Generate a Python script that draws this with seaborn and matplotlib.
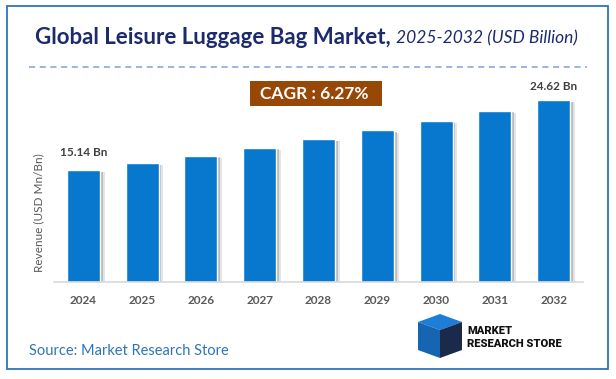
import pandas as pd
import matplotlib
matplotlib.use("Agg")
import matplotlib.pyplot as plt
import matplotlib.patheffects as pe
from matplotlib.patches import Rectangle, Polygon
import seaborn as sns

years = ["2024", "2025", "2026", "2027", "2028", "2029", "2030", "2031", "2032"]
revenue = [15.14, 16.09, 17.10, 18.17, 19.31, 20.52, 21.81, 23.17, 24.62]
first_label = "15.14 Bn"
last_label = "24.62 Bn"
cagr_text = "CAGR : 6.27%"

sns.set_theme(style="white")
plt.rcParams["font.family"] = ["Lato", "DejaVu Sans"]

W, H = 616, 379
fig = plt.figure(figsize=(W / 100, H / 100), dpi=100)
fig.patch.set_facecolor("white")


def fx(px):
    return px / W


def fy(py):
    return 1 - py / H


# main plot area
ax = fig.add_axes([fx(54), fy(282), fx(583) - fx(54), fy(90) - fy(282)])
df = pd.DataFrame({"year": years, "revenue": revenue})
sns.barplot(data=df, x="year", y="revenue", color="#0878CF", saturation=1,
            width=0.56, ax=ax)
for bar in ax.patches:
    bar.set_path_effects([
        pe.SimplePatchShadow(offset=(3.5, -1.5), shadow_rgbFace="#9A9A9A", alpha=0.25),
        pe.SimplePatchShadow(offset=(2, -1), shadow_rgbFace="#7A7A7A", alpha=0.4),
        pe.Normal()])
ax.set_xlim(-0.5, 8.5)
ax.set_ylim(0, 26)
ax.set_yticks([])
ax.set_xlabel("")
ax.set_ylabel("")
for s in ["top", "right", "left"]:
    ax.spines[s].set_visible(False)
ax.spines["bottom"].set_color("#D9D9D9")
ax.spines["bottom"].set_linewidth(1.2)
ax.spines["bottom"].set_zorder(5)
ax.tick_params(axis="x", length=0, pad=9)
for lbl in ax.get_xticklabels():
    lbl.set_fontsize(8.5)
    lbl.set_fontweight("bold")
    lbl.set_color("#595959")

ax.annotate(first_label, (0, revenue[0]), xytext=(0, 9), textcoords="offset points",
            ha="center", va="bottom", fontsize=8.5, fontweight="bold", color="#404040")
ax.annotate(last_label, (len(years) - 1, revenue[-1]), xytext=(0, 6), textcoords="offset points",
            ha="center", va="bottom", fontsize=8.5, fontweight="bold", color="#404040")

# y label
fig.text(fx(39), fy(213), "Revenue (USD Mn/Bn)", rotation=90, ha="center", va="center",
         fontsize=8.5, color="#595959")

# border
fig.patches.append(Rectangle((fx(7), fy(369)), fx(608) - fx(7), fy(6) - fy(369),
                             transform=fig.transFigure, fill=False, edgecolor="#2E75B6", linewidth=1.3))

# title
t1 = fig.text(fx(35), fy(38), "Global Leisure Luggage Bag Market,", ha="left", va="center",
              fontsize=16, fontweight="bold", color="#1C2A6E")
fig.canvas.draw()
bb = t1.get_window_extent()
fig.text(bb.x1 / W + fx(5), fy(38), "2025-2032 (USD Billion)", ha="left", va="center",
         fontsize=12.5, style="italic", color="#1C2A6E")

# dashed separator
fig.add_artist(plt.Line2D([fx(29), fx(587)], [fy(67), fy(67)], transform=fig.transFigure,
                          color="#7FA3D8", linewidth=1.1, linestyle=(0, (4, 3))))

# CAGR box
fig.patches.append(Rectangle((fx(250), fy(106)), fx(382) - fx(250), fy(81) - fy(106),
                             transform=fig.transFigure, facecolor="#974706", edgecolor="none"))
fig.text(fx(314), fy(94), cagr_text, ha="center", va="center", fontsize=12.5,
         fontweight="bold", color="white")

# source
fig.text(fx(29), fy(351), "Source: Market Research Store", ha="left", va="center",
         fontsize=10.5, color="#2E75B6")

# logo (simple cube mark)
fig.patches.append(Polygon([(fx(418), fy(322)), (fx(440), fy(314)), (fx(462), fy(322)), (fx(440), fy(330))],
                           closed=True, transform=fig.transFigure, facecolor="#1C7ED6", edgecolor="none"))
fig.patches.append(Polygon([(fx(418), fy(322)), (fx(440), fy(330)), (fx(440), fy(358)), (fx(418), fy(350))],
                           closed=True, transform=fig.transFigure, facecolor="#1565B0", edgecolor="none"))
fig.patches.append(Polygon([(fx(440), fy(330)), (fx(462), fy(322)), (fx(462), fy(350)), (fx(440), fy(358))],
                           closed=True, transform=fig.transFigure, facecolor="#1B2A4A", edgecolor="none"))
fig.text(fx(467), fy(331), "MARKET", ha="left", va="center", fontsize=8,
         fontweight="heavy", color="#111111", family=["Roboto", "DejaVu Sans"])
fig.text(fx(467), fy(344), "RESEARCH STORE", ha="left", va="center", fontsize=8,
         fontweight="heavy", color="#111111", family=["Roboto", "DejaVu Sans"])

fig.savefig("out.png", dpi=100, facecolor="white")
